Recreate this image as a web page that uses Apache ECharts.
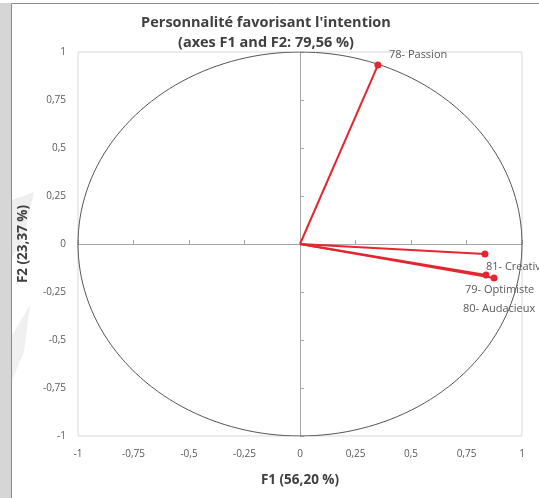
<!DOCTYPE html>
<html>
<head>
<meta charset="utf-8">
<script src="https://cdn.jsdelivr.net/npm/echarts@6/dist/echarts.min.js"></script>
<style>html,body{margin:0;padding:0;background:#fff;}#c{width:539px;height:498px;}</style>
</head>
<body>
<div id="c"></div>
<script>
var varNames = ['78- Passion', '81- Creativité', '79- Optimiste', '80- Audacieux'];
var f1 = [0.351, 0.833, 0.838, 0.874];
var f2 = [0.932, -0.052, -0.161, -0.177];
var tickValues = [-1, -0.75, -0.5, -0.25, 0, 0.25, 0.5, 0.75, 1];
var titleLines = ['Personnalité favorisant l\'intention', '(axes F1 and F2: 79,56 %)'];
var xName = 'F1 (56,20 %)';
var yName = 'F2 (23,37 %)';

var labelOffsets = [[11, -10], [1, 13], [-21, 15], [-31, 31]];

var fmt = function (v) { return String(v).replace('.', ','); };

var circle = [];
for (var a = 0; a <= 360; a += 2) {
  var r = a * Math.PI / 180;
  circle.push([Math.cos(r), Math.sin(r)]);
}

var RED = '#e3262f';
var FONT = 'Open Sans';
var series = [{
  type: 'line', data: circle, showSymbol: false, silent: true,
  lineStyle: { color: '#555555', width: 1 }, z: 2, animation: false
}];
for (var i = 0; i < varNames.length; i++) {
  series.push({
    type: 'line', animation: false, z: 5,
    data: [
      { value: [0, 0], symbol: 'none', label: { show: false } },
      { value: [f1[i], f2[i]], symbol: 'circle', symbolSize: 7,
        label: { show: true, formatter: varNames[i], position: 'inside',
          align: 'left', verticalAlign: 'middle',
          offset: labelOffsets[i], color: '#595959', fontSize: 11,
          fontFamily: FONT } }
    ],
    lineStyle: { color: RED, width: 2 },
    itemStyle: { color: RED }
  });
}

var axisLabelStyle = { color: '#595959', fontSize: 10, fontFamily: FONT, formatter: fmt };
var chart = echarts.init(document.getElementById('c'));
chart.setOption({
  animation: false,
  title: {
    text: titleLines.join('\n'), left: 261, top: 8, textAlign: 'center',
    textStyle: { fontSize: 14.5, fontWeight: 'bold', color: '#404040', lineHeight: 20, fontFamily: FONT }
  },
  graphic: [
    { type: 'rect', shape: { x: 0, y: 3, width: 11, height: 495 }, style: { fill: '#d6d6d6' }, z: 0 },
    { type: 'polygon', shape: { points: [[12, 200], [34, 192], [24, 236], [12, 258]] }, style: { fill: '#eeeeee' }, z: 0 },
    { type: 'polygon', shape: { points: [[12, 335], [30, 305], [24, 352], [12, 380]] }, style: { fill: '#f0f0f0' }, z: 0 },
    { type: 'rect', shape: { x: 11.5, y: 3.5, width: 540, height: 510 }, style: { fill: null, stroke: '#8a8a8a', lineWidth: 1 }, z: 0 }
  ],
  grid: { left: 78, right: 17, top: 52, bottom: 62, show: true, borderColor: '#d9d9d9', borderWidth: 1, backgroundColor: '#fff' },
  xAxis: [{
    type: 'value', min: tickValues[0], max: tickValues[tickValues.length - 1], interval: 0.25, position: 'bottom',
    axisLine: { show: false }, axisTick: { show: false }, splitLine: { show: false },
    axisLabel: Object.assign({ margin: 13 }, axisLabelStyle),
    name: xName, nameLocation: 'middle', nameGap: 37,
    nameTextStyle: { fontSize: 13.5, fontWeight: 'bold', color: '#404040', fontFamily: FONT }
  }, {
    type: 'value', min: -1, max: 1, interval: 0.25, position: 'top',
    axisLine: { show: true, onZero: true, onZeroAxisIndex: 0, lineStyle: { color: '#a6a6a6', width: 1 } },
    axisTick: { show: true, length: 4, lineStyle: { color: '#a6a6a6' } },
    axisLabel: { show: false }, splitLine: { show: false }
  }],
  yAxis: [{
    type: 'value', min: -1, max: 1, interval: 0.25, position: 'left',
    axisLine: { show: false }, axisTick: { show: false }, splitLine: { show: false },
    axisLabel: Object.assign({ margin: 12 }, axisLabelStyle),
    name: yName, nameLocation: 'middle', nameGap: 48, nameRotate: 90,
    nameTextStyle: { fontSize: 13.5, fontWeight: 'bold', color: '#404040', fontFamily: FONT }
  }, {
    type: 'value', min: -1, max: 1, interval: 0.25, position: 'right',
    axisLine: { show: true, onZero: true, onZeroAxisIndex: 0, lineStyle: { color: '#a6a6a6', width: 1 } },
    axisTick: { show: true, length: 4, lineStyle: { color: '#a6a6a6' } },
    axisLabel: { show: false }, splitLine: { show: false }
  }],
  series: series
});
</script>
</body>
</html>
